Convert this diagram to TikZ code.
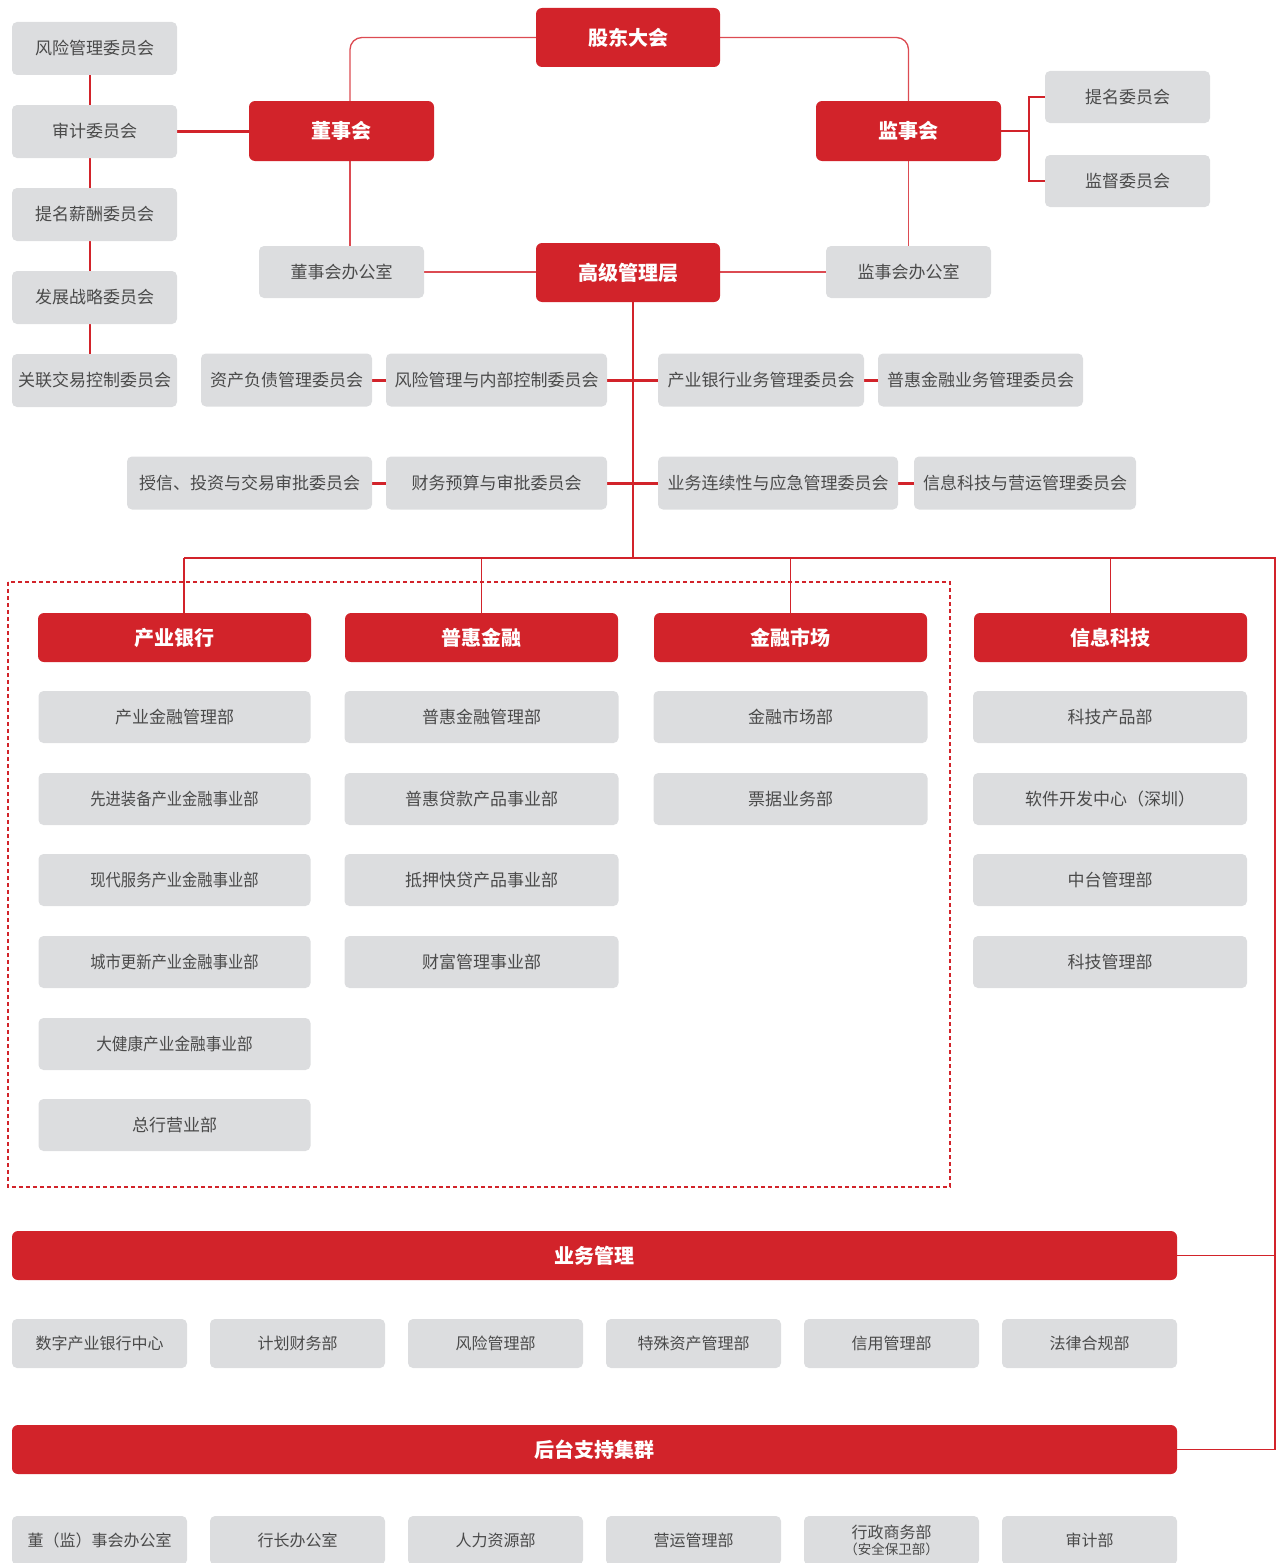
\documentclass[tikz,border=0pt]{standalone}
\usepackage{fontspec}
\setmainfont{Noto Sans CJK SC}
\usetikzlibrary{backgrounds}
\definecolor{bred}{HTML}{D2232A}
\definecolor{bgray}{HTML}{DCDDDF}
\definecolor{tgray}{HTML}{4A4A4A}
\definecolor{lred}{HTML}{DC4B52}
\newcommand\narrowtxt[2]{\scalebox{#1}[1]{#2}}
\begin{document}
\begin{tikzpicture}[x=1pt,y=-1pt,
 gbox/.style={fill=bgray, rounded corners=5pt, text=tgray, inner sep=0pt, font=\fontsize{17}{20}\selectfont, align=center},
 sbox/.style={gbox, font=\fontsize{16}{19}\selectfont, minimum width=175pt, minimum height=49pt},
 cbox/.style={gbox, minimum width=272pt, minimum height=52pt},
 rbox/.style={fill=bred, rounded corners=6pt, text=white, inner sep=0pt, font=\bfseries\fontsize{20}{24}\selectfont},
 rline/.style={draw=bred, line width=1.6pt},
 tline/.style={draw=lred, line width=1.3pt},
 mline/.style={draw=bred, line width=2.4pt},
 kline/.style={draw=bred, line width=3pt},
]
\useasboundingbox (0,0) rectangle (1279,1563);

% top level
\node[rbox, minimum width=184pt, minimum height=59pt] (gd) at (628,37.5) {股东大会};
\node[rbox, minimum width=185pt, minimum height=60pt] (dsh) at (341.5,131) {董事会};
\node[rbox, minimum width=185pt, minimum height=60pt] (jsh) at (908.5,131) {监事会};
\node[rbox, minimum width=184pt, minimum height=59pt] (gj) at (628,272.5) {高级管理层};

% board committees
\node[gbox, minimum width=165pt, minimum height=53pt] (c1) at (94.5,48.5) {风险管理委员会};
\node[gbox, minimum width=165pt, minimum height=53pt] (c2) at (94.5,131.5) {审计委员会};
\node[gbox, minimum width=165pt, minimum height=53pt] (c3) at (94.5,214.5) {提名薪酬委员会};
\node[gbox, minimum width=165pt, minimum height=53pt] (c4) at (94.5,297.5) {发展战略委员会};
\node[gbox, minimum width=165pt, minimum height=53pt] (c5) at (94.5,380.5) {关联交易控制委员会};

% offices
\node[gbox, minimum width=165pt, minimum height=52pt] (dso) at (341.5,272) {董事会办公室};
\node[gbox, minimum width=165pt, minimum height=52pt] (jso) at (908.5,272) {监事会办公室};
\node[gbox, minimum width=165pt, minimum height=52pt] (tm) at (1127.5,97) {提名委员会};
\node[gbox, minimum width=165pt, minimum height=52pt] (jd) at (1127.5,181) {监督委员会};

% management committees
\node[gbox, minimum width=171pt, minimum height=53pt] (r1a) at (286.5,380) {资产负债管理委员会};
\node[gbox, minimum width=221pt, minimum height=53pt] (r1b) at (496.5,380) {风险管理与内部控制委员会};
\node[gbox, minimum width=206pt, minimum height=53pt] (r1c) at (761,380) {产业银行业务管理委员会};
\node[gbox, minimum width=205pt, minimum height=53pt] (r1d) at (980.5,380) {普惠金融业务管理委员会};
\node[gbox, minimum width=245pt, minimum height=53pt] (r2a) at (249.5,483) {授信、投资与交易审批委员会};
\node[gbox, minimum width=221pt, minimum height=53pt] (r2b) at (496.5,483) {财务预算与审批委员会};
\node[gbox, minimum width=240pt, minimum height=53pt] (r2c) at (778,483) {业务连续性与应急管理委员会};
\node[gbox, minimum width=222pt, minimum height=53pt] (r2d) at (1025,483) {信息科技与营运管理委员会};

% business columns
\node[rbox, minimum width=273pt, minimum height=49pt] (h1) at (174.5,637.5) {产业银行};
\node[rbox, minimum width=273pt, minimum height=49pt] (h2) at (481.5,637.5) {普惠金融};
\node[rbox, minimum width=273pt, minimum height=49pt] (h3) at (790.5,637.5) {金融市场};
\node[rbox, minimum width=273pt, minimum height=49pt] (h4) at (1110.5,637.5) {信息科技};

\node[cbox] (a1) at (174.5,717) {产业金融管理部};
\node[cbox] (a2) at (174.5,799) {\narrowtxt{0.9}{先进装备产业金融事业部}};
\node[cbox] (a3) at (174.5,880) {\narrowtxt{0.9}{现代服务产业金融事业部}};
\node[cbox] (a4) at (174.5,962) {\narrowtxt{0.9}{城市更新产业金融事业部}};
\node[cbox] (a5) at (174.5,1044) {\narrowtxt{0.92}{大健康产业金融事业部}};
\node[cbox] (a6) at (174.5,1125) {总行营业部};

\node[cbox, minimum width=274pt] (b1) at (481.5,717) {普惠金融管理部};
\node[cbox, minimum width=274pt] (b2) at (481.5,799) {普惠贷款产品事业部};
\node[cbox, minimum width=274pt] (b3) at (481.5,880) {抵押快贷产品事业部};
\node[cbox, minimum width=274pt] (b4) at (481.5,962) {财富管理事业部};

\node[cbox, minimum width=274pt] (m1) at (790.5,717) {金融市场部};
\node[cbox, minimum width=274pt] (m2) at (790.5,799) {票据业务部};

\node[cbox, minimum width=274pt] (k1) at (1110,717) {科技产品部};
\node[cbox, minimum width=274pt] (k2) at (1110,799) {软件开发中心（深圳）};
\node[cbox, minimum width=274pt] (k3) at (1110,880) {中台管理部};
\node[cbox, minimum width=274pt] (k4) at (1110,962) {科技管理部};

% clusters
\node[rbox, minimum width=1165pt, minimum height=49pt] (yw) at (594.5,1255.5) {业务管理};
\node[sbox] (y1) at (99.5,1343.5) {数字产业银行中心};
\node[sbox] (y2) at (297.5,1343.5) {计划财务部};
\node[sbox] (y3) at (495.5,1343.5) {风险管理部};
\node[sbox] (y4) at (693.5,1343.5) {特殊资产管理部};
\node[sbox] (y5) at (891.5,1343.5) {信用管理部};
\node[sbox] (y6) at (1089.5,1343.5) {法律合规部};

\node[rbox, minimum width=1165pt, minimum height=49pt] (ht) at (594.5,1449.5) {后台支持集群};
\node[sbox] (z1) at (99.5,1540.5) {董（监）事会办公室};
\node[sbox] (z2) at (297.5,1540.5) {行长办公室};
\node[sbox] (z3) at (495.5,1540.5) {人力资源部};
\node[sbox] (z4) at (693.5,1540.5) {营运管理部};
\node[sbox] (z5) at (891.5,1540.5) {行政商务部\\[-3pt]{\fontsize{13.5}{15}\selectfont（安全保卫部）}};
\node[sbox] (z6) at (1089.5,1540.5) {审计部};

\begin{scope}[on background layer]
 \coordinate (dl) at (350,0);
 \coordinate (vl) at (90,0);
 \coordinate (bk) at (1029,0);
 \coordinate (tk) at (633,558);
 \coordinate (bl) at (184,558);
 \coordinate (br) at (1275,558);
 % shareholders to boards
 \draw[tline, rounded corners=12pt] (gd.west) -- (gd.west -| dl) -- (dsh.north -| dl);
 \draw[tline, rounded corners=12pt] (gd.east) -- (gd.east -| jsh.north) -- (jsh.north);
 \draw[tline] (dsh.south -| dl) -- (dso.north -| dl);
 \draw[tline] (jsh.south) -- (jso.north);
 \draw[tline] (dso.east) -- (gj.west |- dso.east);
 \draw[tline] (gj.east |- jso.west) -- (jso.west);
 % board committees
 \draw[mline] (c1.south -| vl) -- (c5.north -| vl);
 \draw[mline] (c2.east) -- (c2.east -| dsh.west);
 % supervisory committees
 \draw[rline] (jsh.east) -- (jsh.east -| bk);
 \draw[rline] (tm.west) -- (tm.west -| bk) -- (jd.west -| bk) -- (jd.west);
 % trunk
 \draw[rline] (gj.south -| tk) -- (tk);
 \draw[kline] (r1a.east) -- (r1b.west);
 \draw[kline] (r1b.east) -- (r1c.west);
 \draw[kline] (r1c.east) -- (r1d.west);
 \draw[kline] (r2a.east) -- (r2b.west);
 \draw[kline] (r2b.east) -- (r2c.west);
 \draw[kline] (r2c.east) -- (r2d.west);
 % bus
 \draw[rline] (bl) -- (br) -- (br |- ht.east) -- (ht.east);
 \draw[rline] (br |- yw.east) -- (yw.east);
 \draw[rline] (bl) -- (h1.north -| bl);
 \draw[rline] (h2.north |- bl) -- (h2.north);
 \draw[rline] (h3.north |- bl) -- (h3.north);
 \draw[rline] (h4.north |- bl) -- (h4.north);
\end{scope}
\draw[bred, line width=1.3pt, dash pattern=on 4pt off 3pt] (8,582) rectangle (950,1187);
\end{tikzpicture}
\end{document}
